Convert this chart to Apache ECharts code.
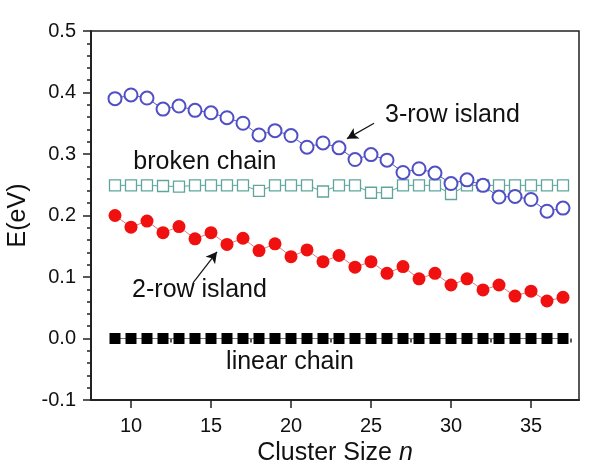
<!DOCTYPE html>
<html>
<head>
<meta charset="utf-8">
<script src="https://cdn.jsdelivr.net/npm/echarts@6/dist/echarts.min.js"></script>
<style>html,body{margin:0;padding:0;background:#fff}#c{width:600px;height:473px}</style>
</head>
<body>
<div id="c"></div>
<script>
const clusterSize = [9,10,11,12,13,14,15,16,17,18,19,20,21,22,23,24,25,26,27,28,29,30,31,32,33,34,35,36,37];
const linearChain = [0,0,0,0,0,0,0,0,0,0,0,0,0,0,0,0,0,0,0,0,0,0,0,0,0,0,0,0,0];
const twoRowIsland = [0.200,0.181,0.191,0.172,0.182,0.162,0.172,0.153,0.163,0.143,0.154,0.133,0.144,0.125,0.135,0.116,0.125,0.106,0.117,0.097,0.106,0.087,0.097,0.079,0.087,0.069,0.077,0.061,0.067];
const brokenChain = [0.249,0.249,0.249,0.248,0.247,0.249,0.249,0.249,0.249,0.240,0.249,0.249,0.249,0.239,0.249,0.249,0.237,0.237,0.249,0.249,0.249,0.235,0.249,0.249,0.249,0.249,0.249,0.249,0.249];
const threeRowIsland = [0.390,0.396,0.391,0.373,0.378,0.371,0.367,0.359,0.350,0.331,0.338,0.330,0.311,0.318,0.310,0.291,0.299,0.290,0.270,0.276,0.269,0.252,0.258,0.249,0.230,0.231,0.226,0.207,0.212];
const xMajorTicks = [10,15,20,25,30,35];
const xMinorTicks = [7.5,12.5,17.5,22.5,27.5,32.5,37.5];

const FONT = 'Liberation Sans, Arial, sans-serif';
const pairs = arr => clusterSize.map((n,i)=>[n,arr[i]]);

const chart = echarts.init(document.getElementById('c'), null, {renderer:'canvas'});
const annLabel = (name, x, y) => ({
  name, coord:[x,y], symbol:'circle', symbolSize:1,
  itemStyle:{color:'rgba(0,0,0,0)'},
  label:{show:true, formatter:name, position:'inside', color:'#111', fontSize:25, fontFamily:FONT}
});
chart.setOption({
  animation:false,
  grid:{left:91, right:21, top:31, bottom:73, outerBoundsMode:'none', containLabel:false, show:true, borderColor:'#222', borderWidth:1.5, backgroundColor:'transparent'},
  xAxis:[{
    type:'value', min:7.5, max:38, interval:2.5,
    name:'{a|Cluster Size }{b|n}', nameLocation:'middle', nameGap:40,
    nameTextStyle:{rich:{a:{fontSize:25,fontFamily:FONT,color:'#111'},b:{fontSize:25,fontFamily:FONT,fontStyle:'italic',color:'#111'}}},
    axisLine:{show:true, onZero:false, lineStyle:{color:'#222', width:2}},
    axisTick:{show:true, inside:false, length:8, customValues:xMajorTicks, lineStyle:{color:'#222', width:1.5}},
    axisLabel:{show:true, customValues:xMajorTicks, margin:16, fontSize:20, fontFamily:FONT, color:'#111'},
    splitLine:{show:false}
  },{
    type:'value', min:7.5, max:38, interval:2.5, position:'bottom',
    axisLine:{show:false},
    axisTick:{show:true, inside:false, length:4, customValues:xMinorTicks, lineStyle:{color:'#222', width:1.5}},
    axisLabel:{show:false}, splitLine:{show:false}
  }],
  yAxis:{
    type:'value', min:-0.1, max:0.5, interval:0.1,
    name:'E(eV)', nameLocation:'middle', nameGap:44,
    nameTextStyle:{fontSize:25, fontFamily:FONT, color:'#111'},
    axisLine:{show:true, onZero:false, lineStyle:{color:'#222', width:2}},
    axisTick:{show:true, inside:false, length:8, lineStyle:{color:'#222', width:1.5}},
    minorTick:{show:true, splitNumber:5, length:4, lineStyle:{color:'#222', width:1.5}},
    axisLabel:{margin:15, fontSize:20, fontFamily:FONT, color:'#111', formatter:v=>v.toFixed(1)},
    splitLine:{show:false}
  },
  series:[
    {
      name:'linear chain', type:'line', data:pairs(linearChain),
      symbol:'rect', symbolSize:11, showAllSymbol:true,
      itemStyle:{color:'#000'}, lineStyle:{color:'#777', width:1},
      markPoint:{silent:true, data:[annLabel('linear chain', 19.94, -0.038)]},
      markLine:{silent:true, symbol:['none','arrow'], symbolSize:[9,11],
        lineStyle:{color:'#111', width:1.2, type:'solid'}, label:{show:false},
        data:[
          [{coord:[25.19,0.350]},{coord:[23.5,0.325]}],
          [{coord:[13.875,0.0905]},{coord:[15.375,0.141]}]
        ]}
    },
    {
      name:'2-row island', type:'line', data:pairs(twoRowIsland),
      symbol:'circle', symbolSize:13, showAllSymbol:true,
      itemStyle:{color:'#f01010'}, lineStyle:{color:'#e07a7a', width:1},
      markPoint:{silent:true, data:[annLabel('2-row island', 14.28, 0.079)]}
    },
    {
      name:'broken chain', type:'line', data:pairs(brokenChain),
      symbol:'rect', symbolSize:11, showAllSymbol:true,
      itemStyle:{color:'#ffffff', borderColor:'#5fa59c', borderWidth:1.3}, lineStyle:{color:'#5fa59c', width:1},
      markPoint:{silent:true, data:[annLabel('broken chain', 14.62, 0.287)]}
    },
    {
      name:'3-row island', type:'line', data:pairs(threeRowIsland),
      symbol:'emptyCircle', symbolSize:13, showAllSymbol:true,
      itemStyle:{color:'#5050c4', borderWidth:1.3}, lineStyle:{color:'#5050c4', width:1},
      markPoint:{silent:true, data:[annLabel('3-row island', 30.09, 0.363)]}
    }
  ]
});
</script>
</body>
</html>
